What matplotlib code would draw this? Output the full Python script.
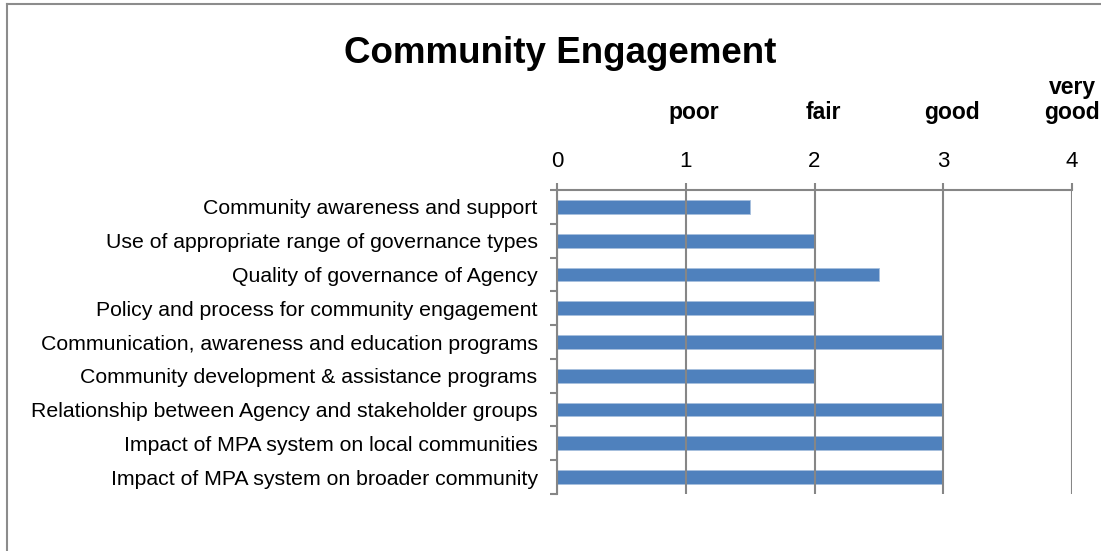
import matplotlib
matplotlib.use('Agg')
import matplotlib.pyplot as plt
from matplotlib.lines import Line2D

plt.rcParams['font.family'] = ['Liberation Sans', 'DejaVu Sans']

categories = [
    'Community awareness and support',
    'Use of appropriate range of governance types',
    'Quality of governance of Agency',
    'Policy and process for community engagement',
    'Communication, awareness and education programs',
    'Community development & assistance programs',
    'Relationship between Agency and stakeholder groups',
    'Impact of MPA system on local communities',
    'Impact of MPA system on broader community',
]
scores = [1.5, 2, 2.5, 2, 3, 2, 3, 3, 3]

ratings = ['poor', 'fair', 'good', 'very\ngood']
rating_pos = [1.06, 2.07, 3.07, 4.0]

bar_color = '#4F81BD'
grid_color = '#868686'

fig = plt.figure(figsize=(11.01, 5.51), dpi=100)
ax = fig.add_axes([0.5059, 0.1034, 0.4678, 0.5518])

y = list(range(len(categories)))
ax.barh(y, scores, height=0.41, color=bar_color, edgecolor='#A7BFDE',
        linewidth=0.6, zorder=2)

ax.set_xlim(0, 4)
ax.set_ylim(len(categories) - 0.5, -0.5)

# value axis on top, gridlines drawn over the bars
ax.xaxis.tick_top()
ax.set_xticks([0, 1, 2, 3, 4])
ax.tick_params(axis='x', direction='out', length=5, width=1.5,
               color=grid_color, labelsize=16, pad=8)
ax.grid(axis='x', color=grid_color, linewidth=1.5, zorder=3)
ax.set_axisbelow(False)

# category ticks sit between the bars
ax.set_yticks([i - 0.5 for i in range(len(categories) + 1)], minor=False)
ax.set_yticklabels([])
ax.set_yticks(y, minor=True)
ax.set_yticklabels(categories, minor=True)
ax.tick_params(axis='y', which='major', direction='out', length=5,
               width=1.5, color=grid_color)
ax.tick_params(axis='y', which='minor', length=0, labelsize=15.3, pad=14)

for side in ['right', 'bottom']:
    ax.spines[side].set_visible(False)
for side in ['left', 'top']:
    ax.spines[side].set_color(grid_color)
    ax.spines[side].set_linewidth(1.5)

# rating words above the value axis
for word, pos in zip(ratings, rating_pos):
    ax.annotate(word, xy=(pos, 1), xycoords=('data', 'axes fraction'),
                xytext=(0, 71), textcoords='offset pixels',
                ha='center', va='baseline', fontsize=16.5,
                fontweight='bold', linespacing=1.12, annotation_clip=False)

fig.text(0.509, 0.885, 'Community Engagement', ha='center', va='baseline',
         fontsize=26.5, fontweight='bold')

# outer chart frame
fig.add_artist(Line2D([7 / 1101, 1], [1 - 4 / 551, 1 - 4 / 551],
                      transform=fig.transFigure, color='#8C8C8C', linewidth=1.5))
fig.add_artist(Line2D([7 / 1101, 7 / 1101], [0, 1 - 4 / 551],
                      transform=fig.transFigure, color='#8C8C8C', linewidth=1.5))

fig.savefig('out.png', dpi=100)
